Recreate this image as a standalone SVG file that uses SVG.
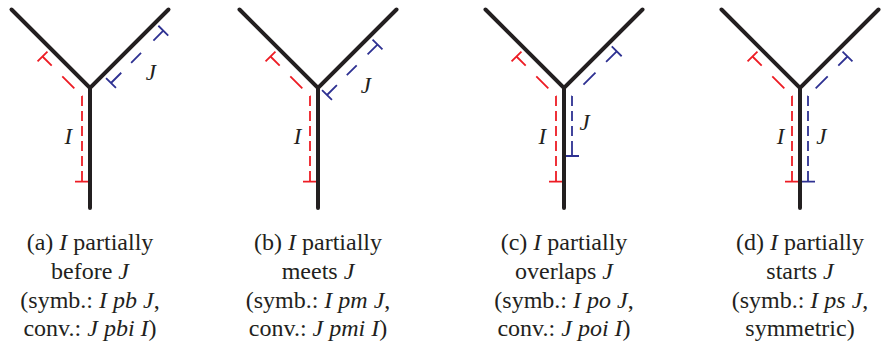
<svg xmlns="http://www.w3.org/2000/svg" width="886" height="346" viewBox="0 0 886 346">
<style>
.y{fill:none;stroke:#231f20;stroke-width:4;stroke-linecap:round;stroke-linejoin:miter}
.r{fill:none;stroke:#ed1c24;stroke-width:1.8}
.b{fill:none;stroke:#2e3192;stroke-width:1.8}
.lbl{font-family:"Liberation Serif","Times New Roman",serif;font-style:italic;font-size:23px;fill:#231f20;text-anchor:middle}
.cap{font-family:"Liberation Serif","Times New Roman",serif;font-size:24px;fill:#231f20;text-anchor:middle}
.it{font-style:italic}
</style>
<rect width="886" height="346" fill="#ffffff"/>

<g id="panel-a" transform="translate(90,0)">
  <g id="a-intervals">
    <path class="r" d="M-47.5,56.5 L-8,96 L-8,181.7" stroke-dasharray="13 15 17 10.86 10 5 10 5 10 5 10 5 10 5 10.7 300"/>
    <path class="r" d="M-52.45,61.45 L-42.55,51.55 M-15,181.7 L-1,181.7"/>
    <path class="b" d="M21,83 L73.3,30.7" stroke-dasharray="14.5 14 14 17.5 13.96 300"/>
    <path class="b" d="M16.05,78.05 L25.95,87.95 M68.35,25.75 L78.25,35.65"/>
  </g>
  <path id="a-y" class="y" d="M-78.5,9.5 L0,88 L78.5,9.5 M0,88 L0,208"/>
  <text class="lbl" x="-21.7" y="143.5">I</text>
  <text class="lbl" x="60.8" y="80">J</text>
  <text class="cap" y="249.5"><tspan x="0">(a) <tspan class="it">I</tspan> partially</tspan><tspan x="0" y="278.5">before <tspan class="it">J</tspan></tspan><tspan x="0" y="307.5">(symb.: <tspan class="it">I pb J</tspan>,</tspan><tspan x="0" y="336">conv.: <tspan class="it">J pbi I</tspan>)</tspan></text>
</g>

<g id="panel-b" transform="translate(318,0)">
  <g id="b-intervals">
    <path class="r" d="M-47.5,56.5 L-8,96 L-8,181.7" stroke-dasharray="13 15 17 10.86 10 5 10 5 10 5 10 5 10 5 10.7 300"/>
    <path class="r" d="M-52.45,61.45 L-42.55,51.55 M-15,181.7 L-1,181.7"/>
    <path class="b" d="M9,95 L59.5,44.5" stroke-dasharray="14 14 14 15.4 14 300"/>
    <path class="b" d="M4.05,90.05 L13.95,99.95 M54.55,39.55 L64.45,49.45"/>
  </g>
  <path id="b-y" class="y" d="M-78.5,9.5 L0,88 L78.5,9.5 M0,88 L0,208"/>
  <text class="lbl" x="-20.5" y="144">I</text>
  <text class="lbl" x="47.8" y="93">J</text>
  <text class="cap" y="249.5"><tspan x="0">(b) <tspan class="it">I</tspan> partially</tspan><tspan x="0" y="278.5">meets <tspan class="it">J</tspan></tspan><tspan x="0" y="307.5">(symb.: <tspan class="it">I pm J</tspan>,</tspan><tspan x="0" y="336">conv.: <tspan class="it">J pmi I</tspan>)</tspan></text>
</g>

<g id="panel-c" transform="translate(564,0)">
  <g id="c-intervals">
    <path class="r" d="M-47.5,56.5 L-8,96 L-8,181.7" stroke-dasharray="13 15 17 10.86 10 5 10 5 10 5 10 5 10 5 10.7 300"/>
    <path class="r" d="M-52.45,61.45 L-42.55,51.55 M-15,181.7 L-1,181.7"/>
    <path class="b" d="M52.7,51.3 L8,96 L8,156" stroke-dasharray="15 15 17 16.2 10 5 10 5 10 5 15 300"/>
    <path class="b" d="M47.75,46.35 L57.65,56.25 M1,156 L15,156"/>
  </g>
  <path id="c-y" class="y" d="M-78.5,9.5 L0,88 L78.5,9.5 M0,88 L0,208"/>
  <text class="lbl" x="-21.7" y="144">I</text>
  <text class="lbl" x="20.7" y="130">J</text>
  <text class="cap" y="249.5"><tspan x="0">(c) <tspan class="it">I</tspan> partially</tspan><tspan x="0" y="278.5">overlaps <tspan class="it">J</tspan></tspan><tspan x="0" y="307.5">(symb.: <tspan class="it">I po J</tspan>,</tspan><tspan x="0" y="336">conv.: <tspan class="it">J poi I</tspan>)</tspan></text>
</g>

<g id="panel-d" transform="translate(800,0)">
  <g id="d-intervals">
    <path class="r" d="M-47.5,56.5 L-8,96 L-8,181.7" stroke-dasharray="13 15 17 10.86 10 5 10 5 10 5 10 5 10 5 10.7 300"/>
    <path class="r" d="M-52.45,61.45 L-42.55,51.55 M-15,181.7 L-1,181.7"/>
    <path class="b" d="M47.5,56.5 L8,96 L8,181.7" stroke-dasharray="13 15 17 10.86 10 5 10 5 10 5 10 5 10 5 10.7 300"/>
    <path class="b" d="M42.55,51.55 L52.45,61.45 M1,181.7 L15,181.7"/>
  </g>
  <path id="d-y" class="y" d="M-78.5,9.5 L0,88 L78.5,9.5 M0,88 L0,208"/>
  <text class="lbl" x="-19.5" y="144">I</text>
  <text class="lbl" x="21.3" y="144">J</text>
  <text class="cap" y="249.5"><tspan x="0">(d) <tspan class="it">I</tspan> partially</tspan><tspan x="0" y="278.5">starts <tspan class="it">J</tspan></tspan><tspan x="0" y="307.5">(symb.: <tspan class="it">I ps J</tspan>,</tspan><tspan x="0" y="336">symmetric)</tspan></text>
</g>
</svg>
